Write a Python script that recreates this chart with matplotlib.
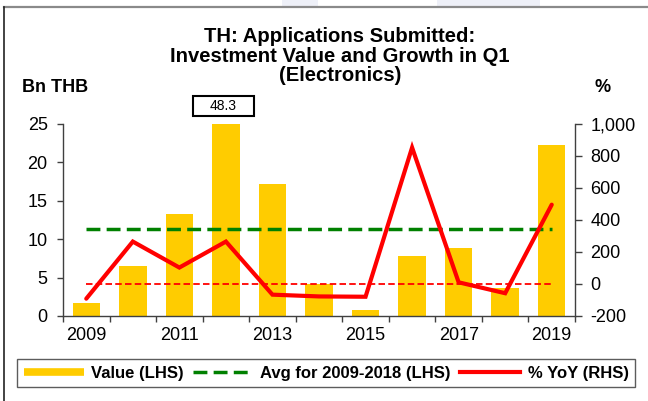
import numpy as np
import matplotlib
matplotlib.use("Agg")
import matplotlib.pyplot as plt
from matplotlib.lines import Line2D
from matplotlib.patches import Rectangle, Polygon
from matplotlib.ticker import FuncFormatter
import matplotlib.transforms as mtransforms

# ---- data ----
years = [2009, 2010, 2011, 2012, 2013, 2014, 2015, 2016, 2017, 2018, 2019]
values = [1.7, 6.5, 13.2, 48.3, 17.1, 4.1, 0.75, 7.8, 8.8, 3.7, 22.2]   # Bn THB
avg_2009_2018 = 11.3                                                    # Bn THB
yoy = [-92, 264, 102, 264, -67, -78, -80, 850, 10, -58, 494]            # %
left_ticks = [0, 5, 10, 15, 20, 25]
right_ticks = [-200, 0, 200, 400, 600, 800, 1000]
label_years = [2009, 2011, 2013, 2015, 2017, 2019]
clipped_label = "48.3"

plt.rcParams['font.family'] = ['Liberation Sans', 'DejaVu Sans']

W, H = 648, 401
fig = plt.figure(figsize=(W / 100, H / 100), dpi=100)

def fx(px):
    return px / W

def fy(py):
    return 1 - py / H

# outer frame (partial) and faint watermark
fig.add_artist(Polygon([[fx(282), fy(0)], [fx(318), fy(0)], [fx(318), fy(6)], [fx(282), fy(6)]],
                       closed=True, transform=fig.transFigure, color='#eef0f8', lw=0))
fig.add_artist(Polygon([[fx(437), fy(0)], [fx(540), fy(0)], [fx(540), fy(6)], [fx(437), fy(6)]],
                       closed=True, transform=fig.transFigure, color='#eef0f8', lw=0))
fig.add_artist(Line2D([fx(4), fx(648)], [fy(6.5), fy(6.5)], transform=fig.transFigure,
                      color='#8a8a8a', lw=1.6))
fig.add_artist(Line2D([fx(4), fx(4)], [fy(6.5), fy(401)], transform=fig.transFigure,
                      color='#222222', lw=1.2))

ax = fig.add_axes([fx(63), fy(316), fx(575) - fx(63), fy(123.5) - fy(316)])
ax2 = ax.twinx()

x = np.arange(len(years))
bar_color = '#FFCC00'
ax.bar(x, values, width=0.59, color=bar_color, zorder=1)
ax.plot([x[0], x[-1]], [avg_2009_2018, avg_2009_2018], color='#008000', lw=2.5,
        dashes=(4.0, 1.8), zorder=3)

ax2.plot([x[0], x[-1]], [0, 0], color='#FF0000', lw=1.3, dashes=(3.6, 1.8), zorder=2)
ax2.plot(x, yoy, color='#FF0000', lw=3.0, solid_capstyle='round', solid_joinstyle='miter', zorder=4)

ax.set_xlim(-0.5, len(years) - 0.5)
ax.set_ylim(left_ticks[0], left_ticks[-1])
ax2.set_ylim(right_ticks[0], right_ticks[-1])

spine_col = '#404040'
for a in (ax, ax2):
    a.spines['top'].set_visible(False)
    for s in ('left', 'right', 'bottom'):
        a.spines[s].set_color(spine_col)
        a.spines[s].set_linewidth(1.0)
ax.spines['right'].set_visible(False)
ax2.spines['left'].set_visible(False)
ax2.spines['bottom'].set_visible(False)

tick_fs = 13
lab_idx = [years.index(yv) for yv in label_years]
ax.set_xticks(lab_idx)
ax.set_xticklabels([str(yv) for yv in label_years])
ax.set_xticks(np.arange(-0.5, len(years), 1.0), minor=True)
ax.tick_params(axis='x', which='major', length=0, pad=8, labelsize=tick_fs, colors='black')
ax.tick_params(axis='x', which='minor', length=4, width=1.0, color=spine_col, direction='out')

ax.set_yticks(left_ticks)
ax.tick_params(axis='y', length=4, width=1.0, color=spine_col, pad=7, labelsize=tick_fs, labelcolor='black')
ax2.set_yticks(right_ticks)
ax2.yaxis.set_major_formatter(FuncFormatter(lambda v, p: f"{int(v):,}"))
ax2.tick_params(axis='y', length=5, width=1.0, color=spine_col, pad=6, labelsize=tick_fs, labelcolor='black')

# titles and axis unit labels
fig.text(fx(340), fy(56), "TH: Applications Submitted:\nInvestment Value and Growth in Q1\n(Electronics)",
         ha='center', va='center', fontsize=14.6, fontweight='bold', linespacing=1.02)
fig.text(fx(22), fy(88), "Bn THB", ha='left', va='center', fontsize=13, fontweight='bold')
fig.text(fx(603), fy(88), "%", ha='center', va='center', fontsize=13, fontweight='bold')

# label for the clipped bar
i_clip = values.index(max(values))
trans = mtransforms.blended_transform_factory(ax.transData, fig.transFigure)
box_w = 61 / 46.5
ax.add_artist(Rectangle((i_clip - 0.05 - box_w / 2, fy(116)), box_w, fy(96) - fy(116),
                        transform=trans, facecolor='white', edgecolor='black', lw=1.5,
                        clip_on=False, zorder=5))
ax.text(i_clip - 0.05, fy(106), clipped_label, transform=trans, ha='center', va='center',
        fontsize=10, zorder=6, clip_on=False)

# legend
handles = [Line2D([], [], color=bar_color, lw=5.5, solid_capstyle='butt'),
           Line2D([], [], color='#008000', lw=2.5, dashes=(4.0, 1.8)),
           Line2D([], [], color='#FF0000', lw=3.0)]
labels = ["Value (LHS)", "Avg for 2009-2018 (LHS)", "% YoY (RHS)"]
leg = fig.legend(handles, labels, loc='upper left', bbox_to_anchor=(fx(17), fy(359)),
                 ncol=3, frameon=True, fancybox=False, edgecolor='#333333',
                 prop={'weight': 'bold', 'size': 12}, handlelength=3.6,
                 handletextpad=0.45, columnspacing=0.55, borderpad=0.4, borderaxespad=0)
leg.get_frame().set_linewidth(1.0)

fig.savefig("out.png", dpi=100)
